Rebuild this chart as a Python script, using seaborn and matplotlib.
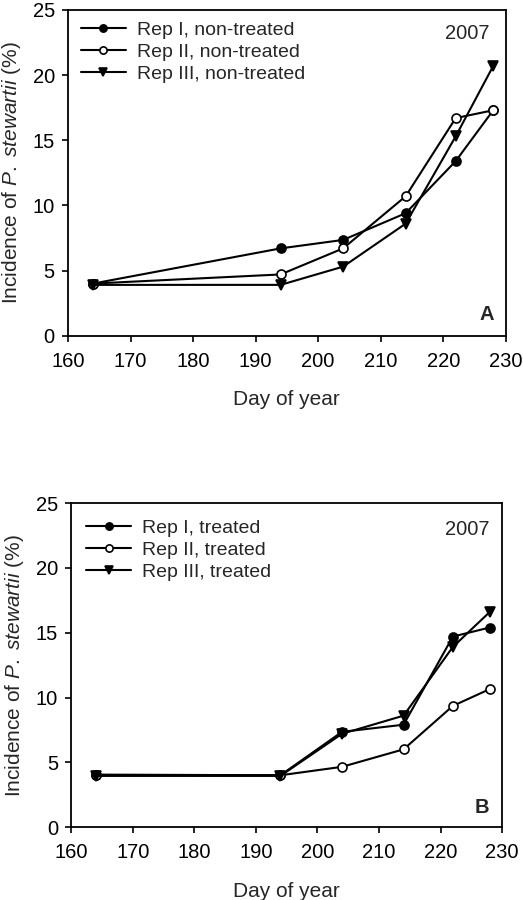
import numpy as np
import pandas as pd
import seaborn as sns
from matplotlib import pyplot as plt

# day of year of each assessment
days = [164, 194, 204, 214, 222, 228]

# panel A, non-treated plots
rep1_nontreated = [4.0, 6.7, 7.35, 9.4, 13.4, 17.3]
rep2_nontreated = [4.0, 4.7, 6.7, 10.7, 16.7, 17.3]
rep3_nontreated = [3.9, 3.9, 5.3, 8.6, 15.3, 20.7]

# panel B, treated plots
rep1_treated = [4.05, 4.0, 7.35, 7.9, 14.7, 15.4]
rep2_treated = [4.0, 4.0, 4.65, 6.0, 9.35, 10.65]
rep3_treated = [3.95, 3.95, 7.2, 8.6, 13.9, 16.6]

labels_a = ['Rep I, non-treated', 'Rep II, non-treated', 'Rep III, non-treated']
labels_b = ['Rep I, treated', 'Rep II, treated', 'Rep III, treated']

sns.set_style('ticks')
plt.rcParams['font.family'] = ['Liberation Sans', 'DejaVu Sans']
plt.rcParams['mathtext.fontset'] = 'custom'
plt.rcParams['mathtext.rm'] = 'Liberation Sans'
plt.rcParams['mathtext.it'] = 'Liberation Sans:italic'

styles = [dict(marker='o', markerfacecolor='black'),
          dict(marker='o', markerfacecolor='white'),
          dict(marker='v', markerfacecolor='black')]


def draw_panel(ax, series, labels, letter, leg_anchor, year_pos, letter_pos):
    for vals, lab, st in zip(series, labels, styles):
        df = pd.DataFrame({'day': days, 'incidence': vals})
        sns.lineplot(data=df, x='day', y='incidence', ax=ax, color='black',
                     linewidth=1.5, markersize=6.5, markeredgecolor='black',
                     markeredgewidth=1.2, label=lab, **st)
    ax.set_xlim(160, 230)
    ax.set_ylim(0, 25)
    ax.set_xticks(np.arange(160, 231, 10))
    ax.set_yticks(np.arange(0, 26, 5))
    ax.tick_params(labelsize=14.5, length=4.5, width=1.2, colors='black',
                   direction='out')
    ax.tick_params(axis='x', pad=7)
    ax.tick_params(axis='y', pad=5)
    for sp in ax.spines.values():
        sp.set_visible(True)
        sp.set_linewidth(1.3)
        sp.set_color('black')
    ax.set_xlabel('Day of year', fontsize=15, labelpad=14)
    ax.set_ylabel(r'Incidence of $\mathit{P.\ stewartii}$ (%)', fontsize=15,
                  labelpad=7)
    ax.legend(loc='upper left', bbox_to_anchor=leg_anchor, frameon=False,
              fontsize=14, handlelength=2.3, handletextpad=0.55,
              labelspacing=0.22, borderpad=0, borderaxespad=0,
              markerscale=0.8)
    ax.text(year_pos[0], year_pos[1], '2007', transform=ax.transAxes,
            fontsize=14.5, ha='center', va='center')
    ax.text(letter_pos[0], letter_pos[1], letter, transform=ax.transAxes,
            fontsize=14.5, fontweight='bold', ha='center', va='center')


fig = plt.figure(figsize=(5.23, 9), dpi=100)
ax_a = fig.add_axes([0.130, 0.627, 0.837, 0.362])
ax_b = fig.add_axes([0.136, 0.081, 0.824, 0.360])

draw_panel(ax_a, [rep1_nontreated, rep2_nontreated, rep3_nontreated],
           labels_a, 'A', (0.03, 0.965), (0.913, 0.929), (0.957, 0.064))
draw_panel(ax_b, [rep1_treated, rep2_treated, rep3_treated],
           labels_b, 'B', (0.035, 0.95), (0.919, 0.917), (0.953, 0.059))

fig.savefig('out.png', dpi=100)
plt.close()
